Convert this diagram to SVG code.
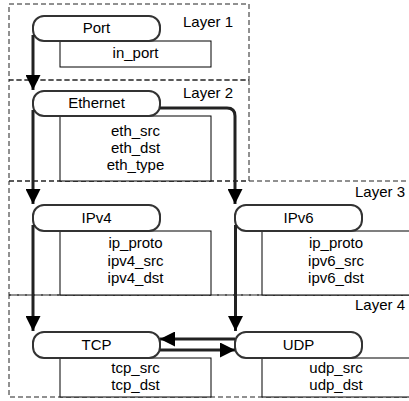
<svg xmlns="http://www.w3.org/2000/svg" width="409" height="401" viewBox="0 0 409 401">
  <style>
    .layer { fill: none; stroke: #222; stroke-width: 1; stroke-dasharray: 5 3; }
    .ltxt { font-family: "Liberation Sans", Arial, sans-serif; font-size: 15px; fill: #000; text-anchor: end; }
    .box { fill: #fff; stroke: #000; stroke-width: 1; }
    .pill { fill: #fff; stroke: #333; stroke-width: 2; }
    .txt { font-family: "Liberation Sans", Arial, sans-serif; font-size: 15px; fill: #000; text-anchor: middle; }
    .conn { fill: none; stroke: #222; stroke-width: 3; }
  </style>
  <defs>
    <marker id="arrow" viewBox="0 0 10 10" refX="10" refY="5" markerWidth="5" markerHeight="5" markerUnits="strokeWidth" orient="auto">
      <path d="M0,0 L10,5 L0,10 Z" fill="#000"/>
    </marker>
  </defs>

  <g id="layers">
    <rect class="layer" x="9" y="4" width="240" height="76"/>
    <rect class="layer" x="9" y="80" width="240" height="101"/>
    <rect class="layer" x="9" y="181" width="412" height="114"/>
    <rect class="layer" x="9" y="295" width="412" height="102"/>
    <text class="ltxt" x="233" y="27">Layer 1</text>
    <text class="ltxt" x="233" y="98">Layer 2</text>
    <text class="ltxt" x="405" y="197">Layer 3</text>
    <text class="ltxt" x="405" y="310">Layer 4</text>
  </g>

  <g id="port">
    <rect class="box" x="60" y="41" width="151" height="26"/>
    <rect class="pill" x="33" y="16" width="127" height="25" rx="11"/>
    <text class="txt" x="96.5" y="33">Port</text>
    <text class="txt" x="135.5" y="58">in_port</text>
  </g>

  <g id="ethernet">
    <rect class="box" x="60" y="116" width="151" height="65"/>
    <rect class="pill" x="33" y="91" width="127" height="25" rx="11"/>
    <text class="txt" x="96.5" y="108">Ethernet</text>
    <text class="txt" x="135.5" y="136">eth_src</text>
    <text class="txt" x="135.5" y="153">eth_dst</text>
    <text class="txt" x="135.5" y="170">eth_type</text>
  </g>

  <g id="ipv4">
    <rect class="box" x="60" y="231" width="151" height="64"/>
    <rect class="pill" x="33" y="205" width="127" height="26" rx="11"/>
    <text class="txt" x="96.5" y="223">IPv4</text>
    <text class="txt" x="135.5" y="248">ip_proto</text>
    <text class="txt" x="135.5" y="266">ipv4_src</text>
    <text class="txt" x="135.5" y="283">ipv4_dst</text>
  </g>

  <g id="ipv6">
    <rect class="box" x="262" y="231" width="151" height="64"/>
    <rect class="pill" x="235" y="205" width="127" height="26" rx="11"/>
    <text class="txt" x="298.5" y="223">IPv6</text>
    <text class="txt" x="336" y="248">ip_proto</text>
    <text class="txt" x="336" y="266">ipv6_src</text>
    <text class="txt" x="336" y="283">ipv6_dst</text>
  </g>

  <g id="tcp">
    <rect class="box" x="60" y="358" width="151" height="39"/>
    <rect class="pill" x="33" y="332" width="127" height="26" rx="11"/>
    <text class="txt" x="96.5" y="350">TCP</text>
    <text class="txt" x="135.5" y="373">tcp_src</text>
    <text class="txt" x="135.5" y="390">tcp_dst</text>
  </g>

  <g id="udp">
    <rect class="box" x="262" y="358" width="151" height="39"/>
    <rect class="pill" x="235" y="332" width="127" height="26" rx="11"/>
    <text class="txt" x="298.5" y="350">UDP</text>
    <text class="txt" x="336" y="373">udp_src</text>
    <text class="txt" x="336" y="390">udp_dst</text>
  </g>

  <g id="connectors">
    <path class="conn" d="M33,35 L33,90" marker-end="url(#arrow)"/>
    <path class="conn" d="M33,110 L33,204" marker-end="url(#arrow)"/>
    <path class="conn" d="M160,108 L227,108 Q235,108 235,116 L235,204" marker-end="url(#arrow)"/>
    <path class="conn" d="M33,225 L33,331" marker-end="url(#arrow)"/>
    <path class="conn" d="M235.5,225 L235.5,331" marker-end="url(#arrow)"/>
    <path class="conn" d="M235,339 L160,339" marker-end="url(#arrow)"/>
    <path class="conn" d="M160,350 L235,350" marker-end="url(#arrow)"/>
  </g>
</svg>
